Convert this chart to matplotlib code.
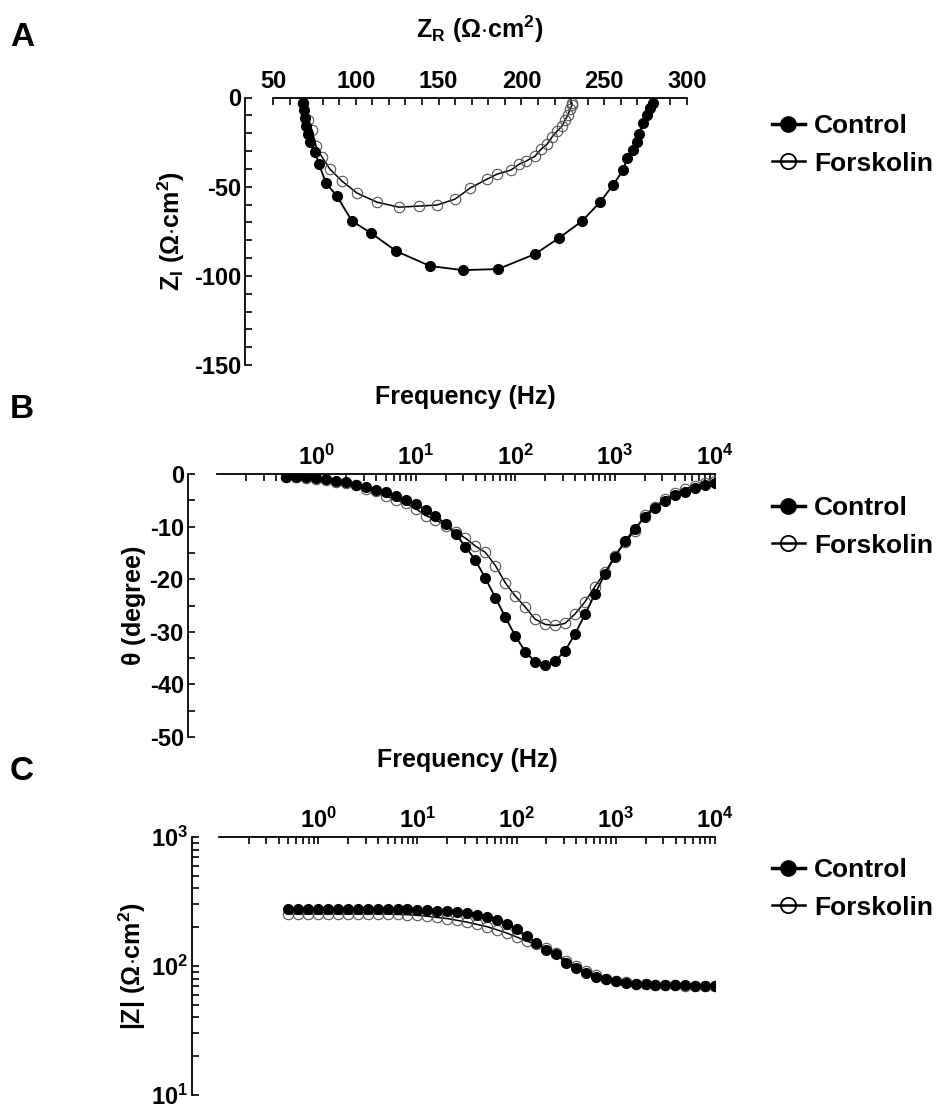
import matplotlib
matplotlib.use("Agg")
import matplotlib.pyplot as plt
from matplotlib.ticker import MultipleLocator, LogLocator, FixedLocator, NullFormatter
from matplotlib.lines import Line2D

plt.rcParams['font.family'] = ['Liberation Sans', 'DejaVu Sans']
plt.rcParams['font.weight'] = 'bold'
plt.rcParams['axes.labelweight'] = 'bold'
plt.rcParams['mathtext.fontset'] = 'custom'
plt.rcParams['mathtext.rm'] = 'Liberation Sans'
plt.rcParams['mathtext.bf'] = 'Liberation Sans:bold'
plt.rcParams['mathtext.it'] = 'Liberation Sans:italic'
plt.rcParams['axes.unicode_minus'] = False

# ---- panel A: Nyquist plot ----
zr_control = [68.1, 68.7, 69.3, 69.9, 71.1, 72.3, 75.4, 77.8, 82.0, 88.6, 97.7, 109.2,
              124.3, 144.8, 164.7, 185.9, 208.2, 222.7, 236.6, 247.5, 255.3, 261.4,
              263.8, 267.4, 269.8, 271.0, 273.4, 275.8, 277.7, 279.5]
zi_control = [-3.2, -7.1, -11.6, -16.1, -20.6, -25.0, -30.6, -37.4, -48.0, -55.3, -69.3, -76.0,
              -86.1, -94.5, -96.8, -96.2, -87.8, -78.8, -69.3, -58.7, -49.1, -40.7,
              -34.0, -29.5, -25.0, -20.6, -14.4, -9.9, -6.0, -3.2]
zr_forsk = [68.1, 71.1, 73.6, 76.0, 79.6, 84.4, 91.7, 100.7, 112.8, 126.1, 138.2, 149.0,
            159.9, 169.0, 179.2, 185.3, 193.7, 198.6, 202.8, 208.2, 211.8, 215.5, 218.5,
            221.5, 224.5, 226.3, 228.1, 229.3, 230.6, 230.6]
zi_forsk = [-3.2, -12.7, -18.3, -27.3, -33.4, -40.2, -46.9, -53.6, -58.7, -61.5, -60.9, -60.3,
            -57.0, -50.8, -45.8, -43.0, -40.7, -37.4, -35.7, -32.9, -29.0, -26.2, -22.2,
            -18.9, -16.1, -12.7, -9.9, -6.6, -4.3, -3.2]

# ---- panels B and C: Bode plots ----
freq = [0.5, 0.63, 0.79, 1.0, 1.26, 1.58, 2.0, 2.51, 3.16, 3.98,
        5.0, 6.31, 7.94, 10, 12.6, 15.8, 20, 25.1, 31.6, 39.8,
        50, 63.1, 79.4, 100, 126, 158, 200, 251, 316, 398,
        501, 631, 794, 1000, 1259, 1585, 1995, 2512, 3162, 3981,
        5012, 6310, 7943, 10000]
theta_control = [-0.5, -0.5, -0.6, -0.8, -1.0, -1.4, -1.6, -2.0, -2.4, -3.0,
                 -3.5, -4.1, -4.9, -5.7, -6.8, -8.0, -9.5, -11.4, -13.8, -16.4,
                 -19.8, -23.5, -27.2, -30.8, -33.8, -35.7, -36.4, -35.6, -33.6, -30.4,
                 -26.7, -22.8, -19.0, -15.7, -12.8, -10.4, -8.2, -6.5, -5.1, -4.0,
                 -3.4, -2.7, -2.1, -1.8]
theta_forsk = [-0.5, -0.6, -0.7, -0.9, -1.2, -1.5, -1.7, -2.1, -2.8, -3.2,
               -4.1, -4.9, -5.5, -6.6, -7.9, -8.7, -9.8, -11.0, -12.2, -13.7,
               -14.9, -17.4, -20.7, -23.2, -25.3, -27.6, -28.6, -28.8, -28.4, -26.6,
               -24.3, -21.4, -18.7, -15.6, -13.0, -10.8, -7.8, -6.2, -4.8, -3.7,
               -2.9, -2.2, -1.8, -1.4]
zmod_control = [276, 276, 276, 276, 276, 276, 276, 276, 276, 276,
                276, 275, 275, 273, 272, 268, 265, 262, 256, 248,
                238, 227, 213, 194, 170, 152, 134, 123, 106, 97.3,
                89, 82.8, 79, 75.9, 73.6, 72.7, 72, 71.5, 71.1, 70.9,
                70.7, 70.5, 70.4, 70.3]
zmod_forsk = [253, 253, 253, 253, 253, 253, 253, 253, 253, 253,
              253, 251, 250, 247, 243, 238, 233, 226, 219, 210,
              202, 191, 180, 168, 156, 147, 137, 126, 110, 100,
              91, 85, 80, 77, 74.5, 73, 72, 71.5, 71, 70.8,
              70.6, 70.5, 70.4, 70.3]

labels = ['Control', 'Forskolin']
decade_ticks = [1, 10, 100, 1000, 10000]
decade_labels = [r'$\mathbf{10^{0}}$', r'$\mathbf{10^{1}}$', r'$\mathbf{10^{2}}$',
                 r'$\mathbf{10^{3}}$', r'$\mathbf{10^{4}}$']

W, H = 939, 1108
fig = plt.figure(figsize=(W / 100, H / 100), dpi=100)


def box(left, top, right, bottom):
    return [left / W, 1 - bottom / H, (right - left) / W, (bottom - top) / H]


def style(ax, offset):
    ax.spines['right'].set_visible(False)
    ax.spines['bottom'].set_visible(False)
    ax.spines['left'].set_position(('outward', offset))
    for s in ['top', 'left']:
        ax.spines[s].set_linewidth(1.3)
    ax.xaxis.tick_top()
    ax.xaxis.set_label_position('top')
    ax.tick_params(which='both', direction='in', length=5, width=1.2, labelsize=17,
                   right=False, bottom=False, pad=3)


ctrl_kw = dict(color='black', lw=1.3, marker='o', ms=7, mfc='black', mec='black')
forsk_kw = dict(color='black', lw=1.1, marker='o', ms=7.5, mfc='none', mec='#555555', mew=0.8)


def add_legend(y_center):
    handles = [Line2D([], [], color='black', lw=2.5, marker='o', ms=11, mfc='black', mec='black'),
               Line2D([], [], color='black', lw=1.8, marker='o', ms=11, mfc='none', mec='black', mew=1.3)]
    fig.legend(handles, labels, loc='center left', frameon=False,
               bbox_to_anchor=(772 / W, 1 - y_center / H), bbox_transform=fig.transFigure,
               prop={'weight': 'bold', 'size': 19}, handlelength=1.25,
               handletextpad=0.35, labelspacing=0.5, borderaxespad=0, borderpad=0)


# Panel A
axA = fig.add_axes(box(273, 97.5, 687, 365))
style(axA, 20)
axA.plot(zr_forsk, zi_forsk, **forsk_kw)
axA.plot(zr_control, zi_control, **ctrl_kw)
axA.set_xlim(50, 300)
axA.set_ylim(-150, 0)
axA.xaxis.set_major_locator(MultipleLocator(50))
axA.xaxis.set_minor_locator(MultipleLocator(10))
axA.yaxis.set_major_locator(MultipleLocator(50))
axA.yaxis.set_minor_locator(MultipleLocator(10))
axA.set_xlabel(r'$\mathbf{Z_R\ (}\Omega\mathbf{\cdot cm^2)}$', fontsize=18, labelpad=23)
axA.set_ylabel(r'$\mathbf{Z_I\ (}\Omega\mathbf{\cdot cm^2)}$', fontsize=18, labelpad=5)
add_legend(145)

# Panel B
axB = fig.add_axes(box(216.5, 474, 714.5, 737))
style(axB, 20.5)
axB.semilogx(freq, theta_forsk, **forsk_kw)
axB.semilogx(freq, theta_control, **ctrl_kw)
axB.set_xlim(0.1, 10000)
axB.set_ylim(-50, 0)
axB.xaxis.set_major_locator(FixedLocator(decade_ticks))
axB.set_xticklabels(decade_labels)
axB.xaxis.set_minor_locator(LogLocator(base=10, subs=range(2, 10), numticks=20))
axB.xaxis.set_minor_formatter(NullFormatter())
axB.yaxis.set_major_locator(MultipleLocator(10))
axB.yaxis.set_minor_locator(MultipleLocator(5))
axB.set_xlabel('Frequency (Hz)', fontsize=18, fontweight='bold', labelpad=29)
axB.set_ylabel(r'$\mathrm{\theta}\ \mathbf{(degree)}$', fontsize=18, labelpad=1)
add_legend(527)

# Panel C
axC = fig.add_axes(box(219, 837, 715, 1095))
style(axC, 19.5)
axC.loglog(freq, zmod_forsk, **forsk_kw)
axC.loglog(freq, zmod_control, **ctrl_kw)
axC.set_xlim(0.1, 10000)
axC.set_ylim(10, 1000)
axC.xaxis.set_major_locator(FixedLocator(decade_ticks))
axC.set_xticklabels(decade_labels)
axC.xaxis.set_minor_locator(LogLocator(base=10, subs=range(2, 10), numticks=20))
axC.xaxis.set_minor_formatter(NullFormatter())
axC.yaxis.set_major_locator(FixedLocator([10, 100, 1000]))
axC.set_yticklabels([r'$\mathbf{10^{1}}$', r'$\mathbf{10^{2}}$', r'$\mathbf{10^{3}}$'])
axC.yaxis.set_minor_locator(LogLocator(base=10, subs=range(2, 10), numticks=20))
axC.yaxis.set_minor_formatter(NullFormatter())
axC.set_xlabel('Frequency (Hz)', fontsize=18, fontweight='bold', labelpad=29)
axC.set_ylabel(r'$\mathbf{|Z|\ (}\Omega\mathbf{\cdot cm^2)}$', fontsize=18, labelpad=2)
add_legend(889)

for letter, y in [('A', 38), ('B', 410), ('C', 772)]:
    fig.text(10 / W, 1 - y / H, letter, fontsize=24, fontweight='bold', va='center')

fig.savefig('out.png', dpi=100)
